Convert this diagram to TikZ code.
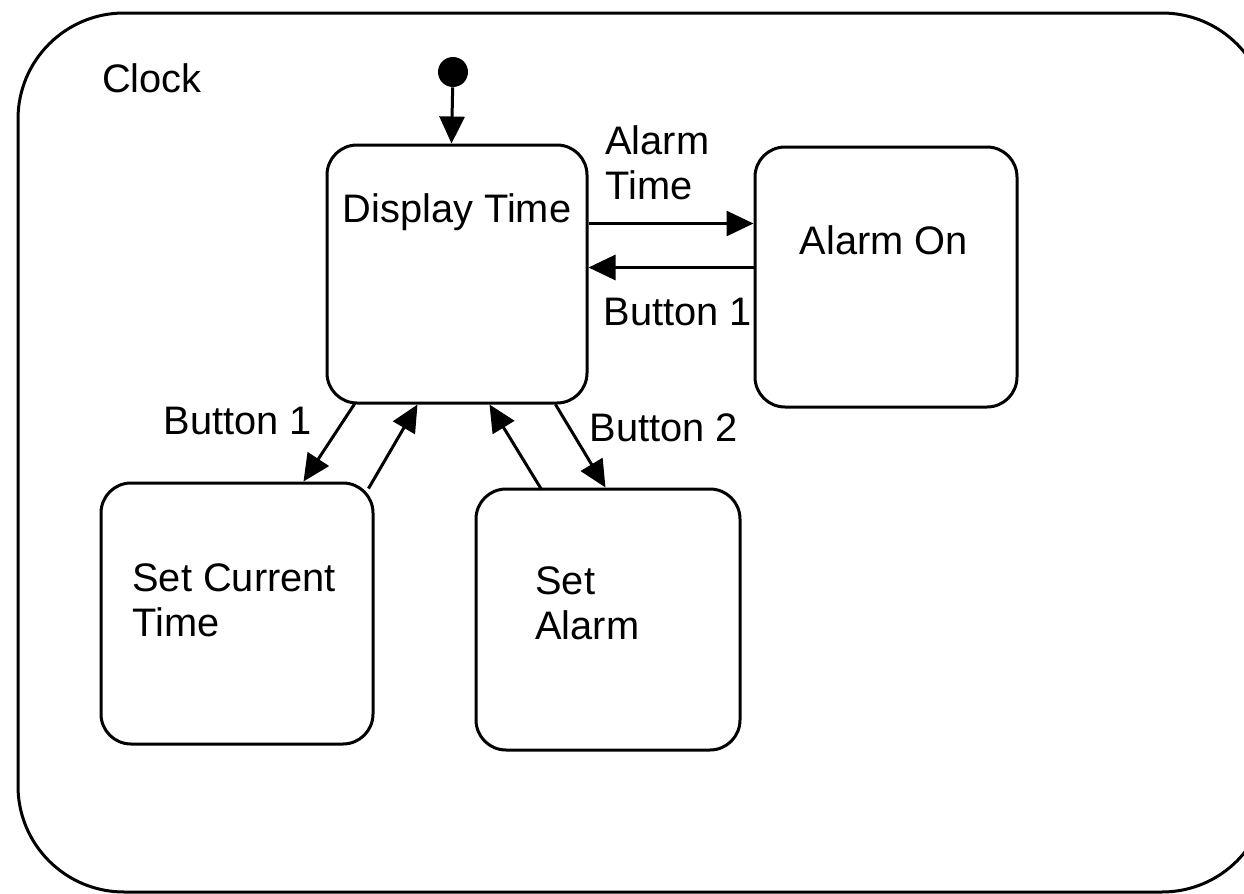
\documentclass[tikz,border=0pt]{standalone}
\usepackage{fontspec}
\setmainfont{Liberation Sans}
\usetikzlibrary{arrows.meta,calc}
\begin{document}
\begin{tikzpicture}[x=0.5pt,y=-0.5pt,
  every node/.style={font=\fontsize{19.9}{22.5}\selectfont},
  statebox/.style={draw,line width=1.5pt,rounded corners=15pt,minimum width=#1,inner sep=0pt},
  txt/.style={inner sep=0pt},
  conn/.style={line width=1.5pt,-{Triangle[length=13.5pt,width=12.5pt]}}]
\useasboundingbox (0,0) rectangle (1244,894);
\clip (0,0) rectangle (1244,894);
% outer frame
\draw[line width=1.5pt,rounded corners=53pt] (18,13) rectangle (1268,892);
\node[txt] (clock) at (152,78) {Clock};
% states
\node[statebox=130pt,minimum height=129pt] (dt) at (457,274) {};
\node[statebox=131pt,minimum height=130pt] (ao) at (886,277) {};
\node[statebox=136pt,minimum height=130.5pt] (sct) at (237,613.5) {};
\node[statebox=132pt,minimum height=130.5pt] (sa) at (608,619.5) {};
% texts
\node[txt] (dtt) at (457,212) {Display Time};
\node[txt] (aot) at (884,240) {Alarm On};
\node[txt,anchor=west,align=left] (sctt) at (132,600) {Set Current\\Time};
\node[txt,anchor=west,align=left] (sat) at (535,603) {Set\\Alarm};
% initial
\node[circle,fill=black,minimum size=15pt,inner sep=0pt] (init) at (453,72) {};
\draw[conn] (init) -- ($(dt.north west)+(126,0)$);
% transitions
\draw[conn] ($(dt.north east)+(0,80)$) -- ($(ao.north west)+(0,78)$);
\draw[conn] ($(ao.north west)+(0,122)$) -- ($(dt.north east)+(0,124)$);
\draw[conn] ($(dt.south west)+(30,-2)$) -- ($(sct.north west)+(204,0)$);
\draw[conn] ($(sct.north east)+(-6,7)$) -- ($(dt.south west)+(92,0)$);
\draw[conn] ($(sa.north west)+(67,2)$) -- ($(dt.south west)+(164,0)$);
\draw[conn] ($(dt.south west)+(230,0)$) -- ($(sa.north west)+(131,0)$);
% labels
\node[txt,anchor=west,align=left] (lat) at (605,163) {Alarm\\Time};
\node[txt] (lb1) at (678,312) {Button 1};
\node[txt] (lb1b) at (238,421) {Button 1};
\node[txt] (lb2) at (664,428) {Button 2};
\end{tikzpicture}
\end{document}
